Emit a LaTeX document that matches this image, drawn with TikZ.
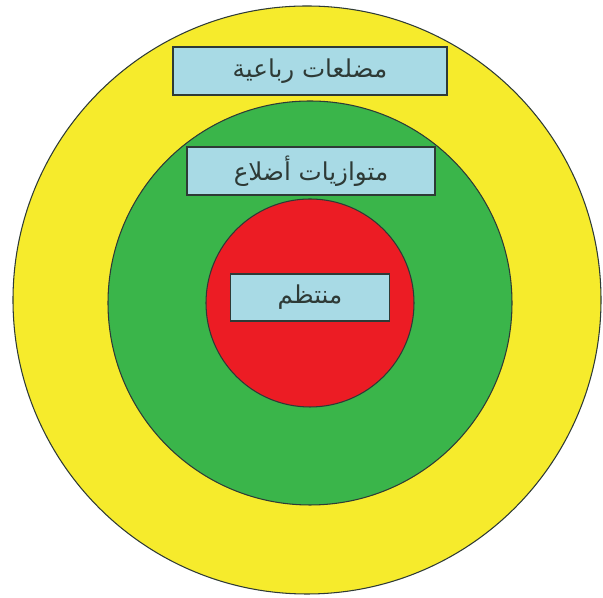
\documentclass[tikz,border=0pt]{standalone}
\usepackage{fontspec}
\usetikzlibrary{positioning}
\TeXXeTstate=1
\newfontfamily\arabicfont[Script=Arabic]{DejaVu Sans}
\definecolor{ylw}{HTML}{F6EB2C}
\definecolor{grn}{HTML}{3AB54A}
\definecolor{rdd}{HTML}{EC1C24}
\definecolor{lblue}{HTML}{A8DAE5}
\definecolor{edge}{HTML}{2E3A36}
\tikzset{
  ring/.style={draw=edge,line width=0.6pt},
  lbl/.style={draw=edge,fill=lblue,line width=1pt,inner sep=0pt,
    font=\arabicfont\fontsize{14}{16}\selectfont,text=edge}
}

\begin{document}
\begin{tikzpicture}
    \useasboundingbox (0,0) rectangle (12.06,11.96);
    \fill[white] (0,0) rectangle (12.06,11.96);
    % nested sets
    \draw[ring,fill=ylw] (6.14,5.96) circle[radius=5.88];
    \draw[ring,fill=grn] (6.20,5.90) circle[radius=4.04];
    \draw[ring,fill=rdd] (6.20,5.90) circle[radius=2.08];
    \node[lbl,minimum width=5.48cm,minimum height=0.96cm] (quad) at (6.20,10.54) {\beginR مضلعات رباعية\endR};
    \node[lbl,minimum width=4.96cm,minimum height=0.96cm] (para) at (6.22,8.54) {\beginR متوازيات أضلاع\endR};
    \node[lbl,minimum width=3.18cm,minimum height=0.94cm] (regl) at (6.20,6.01) {\beginR منتظم\endR};
  \end{tikzpicture}
\end{document}
